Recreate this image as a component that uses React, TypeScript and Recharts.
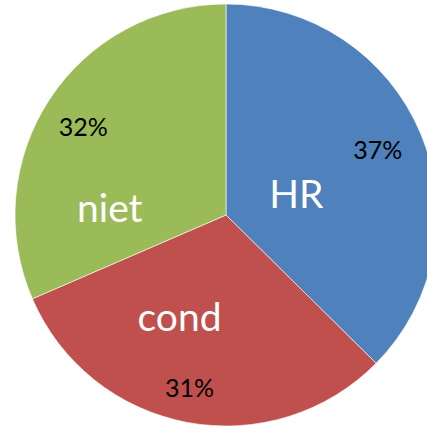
import React from 'react';
import { PieChart, Pie, Cell } from 'recharts';

const categories = ['HR', 'cond', 'niet'];
const shares = [37.4, 31.1, 31.5];
const percentLabels = ['37%', '31%', '32%'];
const colors = ['#4F81BD', '#C0504D', '#9BBB59'];

// extra shifts for labels, Excel-like placement
const nameNudge = [
  [-27, 19],
  [-27, -3],
  [-28, 50],
];
const pctNudge = [
  [-6, 0],
  [-5, 4],
  [0, 5],
];

const data = categories.map((name, i) => ({ name, value: shares[i] }));

const RADIAN = Math.PI / 180;
const FONT = 'Lato, "Open Sans", sans-serif';

const renderLabel = (props: any) => {
  const { cx, cy, midAngle, outerRadius, index } = props;
  const cos = Math.cos(-midAngle * RADIAN);
  const sin = Math.sin(-midAngle * RADIAN);
  const rp = outerRadius * 0.81;
  const rn = outerRadius * 0.5;
  const [nx, ny] = nameNudge[index];
  const [px, py] = pctNudge[index];
  return (
    <g>
      <text
        x={cx + rp * cos + px}
        y={cy + rp * sin + py}
        fill="#000"
        fontSize={25}
        fontFamily={FONT}
        textAnchor="middle"
        dominantBaseline="central"
      >
        {percentLabels[index]}
      </text>
      <text
        x={cx + rn * cos + nx}
        y={cy + rn * sin + ny}
        fill="#fff"
        fontSize={39}
        fontFamily={FONT}
        textAnchor="middle"
        dominantBaseline="central"
      >
        {categories[index]}
      </text>
    </g>
  );
};

export default function App() {
  return (
    <div style={{ position: 'fixed', left: 0, top: 0, width: 427, height: 427, background: '#fff' }}>
      <PieChart width={427} height={427} margin={{ top: 0, right: 0, bottom: 0, left: 0 }}>
        <Pie
          data={data}
          dataKey="value"
          nameKey="name"
          cx={226}
          cy={215}
          outerRadius={211}
          startAngle={90}
          endAngle={-270}
          stroke="#fff"
          strokeWidth={0.6}
          label={renderLabel}
          labelLine={false}
          isAnimationActive={false}
        >
          {data.map((d, i) => (
            <Cell key={d.name} fill={colors[i]} />
          ))}
        </Pie>
      </PieChart>
    </div>
  );
}
